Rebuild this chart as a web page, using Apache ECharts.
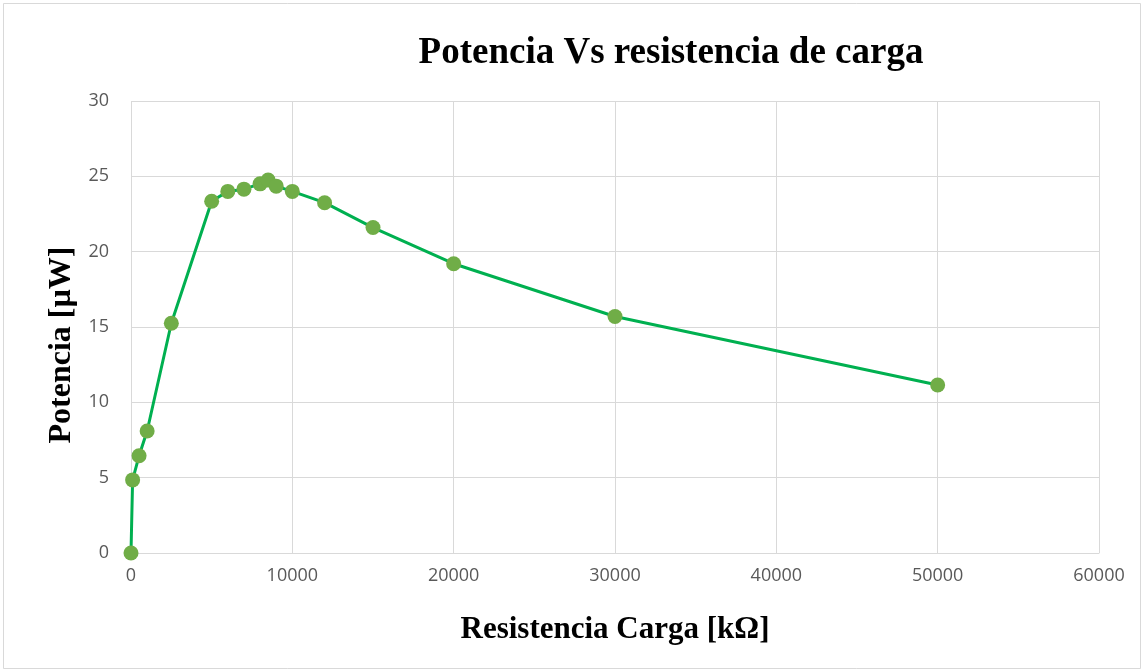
<!DOCTYPE html>
<html>
<head>
<meta charset="utf-8">
<script src="https://cdn.jsdelivr.net/npm/echarts@6/dist/echarts.min.js"></script>
<style>
  html, body { margin: 0; padding: 0; background: #fff; }
  #chart { width: 1145px; height: 672px; }
</style>
</head>
<body>
<div id="chart"></div>
<script>
const resistencia = [0, 100, 500, 1000, 2500, 5000, 6000, 7000, 8000, 8500, 9000, 10000, 12000, 15000, 20000, 30000, 50000]
const potencia = [0, 4.85, 6.45, 8.1, 15.25, 23.35, 24.0, 24.15, 24.5, 24.75, 24.35, 24.0, 23.25, 21.6, 19.2, 15.7, 11.15]

const chart = echarts.init(document.getElementById('chart'))

const tickFont = { color: '#595959', fontSize: 18, fontFamily: 'Open Sans' }
const gridLine = { show: true, lineStyle: { color: '#d9d9d9', width: 1 } }

chart.setOption({
  animation: false,
  backgroundColor: '#fff',
  graphic: [{
    type: 'rect',
    shape: { x: 3.5, y: 3.5, width: 1137, height: 665 },
    style: { fill: 'none', stroke: '#d9d9d9', lineWidth: 1 },
    silent: true,
  }],
  title: {
    text: 'Potencia Vs resistencia de carga',
    left: 666,
    top: 30,
    textAlign: 'center',
    textStyle: { fontFamily: 'Liberation Serif', fontWeight: 'bold', fontSize: 37, color: '#000' },
  },
  grid: { left: 131, right: 46, top: 101, bottom: 119 },
  xAxis: {
    type: 'value',
    min: 0,
    max: 60000,
    interval: 10000,
    name: 'Resistencia Carga [kΩ]',
    nameLocation: 'middle',
    nameGap: 61,
    nameTextStyle: { fontFamily: 'Liberation Serif', fontWeight: 'bold', fontSize: 31, color: '#000' },
    axisLine: { show: true, lineStyle: { color: '#d9d9d9', width: 1 } },
    axisTick: { show: false },
    axisLabel: { ...tickFont, margin: 14, formatter: v => String(v) },
    splitLine: gridLine,
  },
  yAxis: {
    type: 'value',
    min: 0,
    max: 30,
    interval: 5,
    name: 'Potencia [µW]',
    nameLocation: 'middle',
    nameGap: 52,
    nameRotate: 90,
    nameTextStyle: { fontFamily: 'Liberation Serif', fontWeight: 'bold', fontSize: 32, color: '#000', padding: [0, 36, 0, 0] },
    axisLine: { show: false },
    axisTick: { show: false },
    axisLabel: { ...tickFont, margin: 22 },
    splitLine: gridLine,
  },
  series: [{
    type: 'line',
    data: resistencia.map((r, i) => [r, potencia[i]]),
    symbol: 'circle',
    symbolSize: 15,
    itemStyle: { color: '#70ad47', borderWidth: 0 },
    lineStyle: { color: '#00b050', width: 3 },
    z: 3,
  }],
})
</script>
</body>
</html>
